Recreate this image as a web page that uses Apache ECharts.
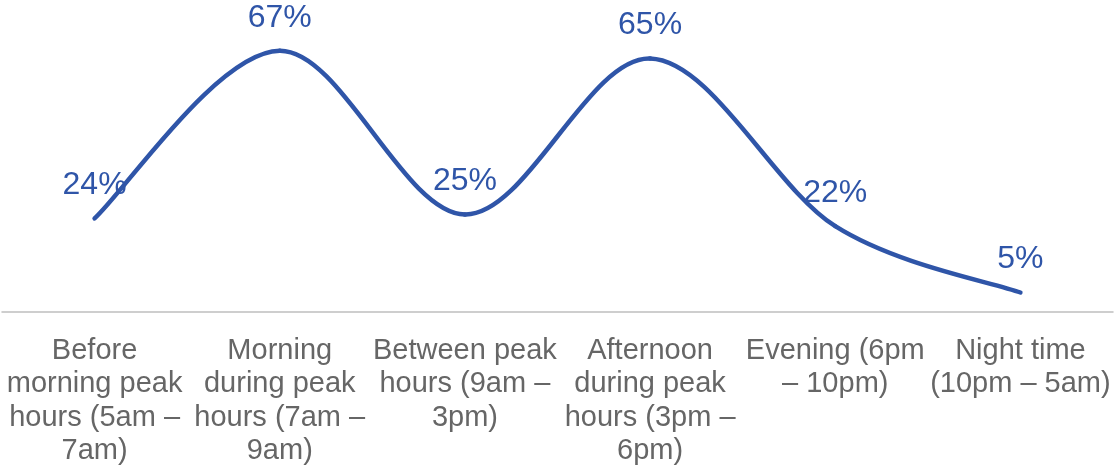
<!DOCTYPE html>
<html>
<head>
<meta charset="utf-8">
<script src="https://cdn.jsdelivr.net/npm/echarts@6/dist/echarts.min.js"></script>
<style>
  html, body { margin: 0; padding: 0; background: #ffffff; }
  #chart { width: 1115px; height: 466px; }
</style>
</head>
<body>
<div id="chart"></div>
<script>
// Time-of-day periods (line breaks as wrapped under the axis)
var categories = [
  'Before\nmorning peak\nhours (5am \u2013\n7am)',
  'Morning\nduring peak\nhours (7am \u2013\n9am)',
  'Between peak\nhours (9am \u2013\n3pm)',
  'Afternoon\nduring peak\nhours (3pm \u2013\n6pm)',
  'Evening (6pm\n\u2013 10pm)',
  'Night time\n(10pm \u2013 5am)'
];

// Share per period, in percent
var shares = [24, 67, 25, 65, 22, 5];

var LINE_COLOR = '#2F55A8';
var FONT = 'Liberation Sans, Arial, sans-serif';

// Smoothed curve: one cubic Bezier per segment, Catmull-Rom style tangents,
// endpoints positioned through the axis scales via api.coord.
function renderSegment(params, api) {
  var i = params.dataIndex;
  var n = shares.length;
  if (i >= n - 1) return null;
  function pt(k) {
    k = Math.max(0, Math.min(n - 1, k));
    return api.coord([k, shares[k]]);
  }
  var p0 = pt(i - 1), p1 = pt(i), p2 = pt(i + 1), p3 = pt(i + 2);
  var t = 1 / 6;
  return {
    type: 'bezierCurve',
    shape: {
      x1: p1[0], y1: p1[1],
      x2: p2[0], y2: p2[1],
      cpx1: p1[0] + (p2[0] - p0[0]) * t,
      cpy1: p1[1] + (p2[1] - p0[1]) * t,
      cpx2: p2[0] - (p3[0] - p1[0]) * t,
      cpy2: p2[1] - (p3[1] - p1[1]) * t
    },
    style: {
      stroke: LINE_COLOR,
      fill: null,
      lineWidth: 4.5,
      lineCap: 'round',
      lineJoin: 'round'
    }
  };
}

var chart = echarts.init(document.getElementById('chart'), null, { renderer: 'canvas' });

chart.setOption({
  animation: false,
  grid: {
    left: 2, right: 2, top: 0, bottom: 154,
    containLabel: false,
    outerBoundsMode: 'none'
  },
  xAxis: {
    type: 'category',
    data: categories,
    boundaryGap: true,
    axisLine: { show: true, lineStyle: { color: '#BFBFBF', width: 1.5 } },
    axisTick: { show: false },
    axisLabel: {
      interval: 0,
      margin: 22,
      color: '#666666',
      fontFamily: FONT,
      fontSize: 29,
      lineHeight: 33.5,
      align: 'center'
    }
  },
  yAxis: {
    type: 'value',
    min: 0,
    max: 80,
    show: false,
    splitLine: { show: false }
  },
  series: [
    {
      type: 'custom',
      renderItem: renderSegment,
      clip: false,
      silent: true,
      data: shares.map(function (v, i) { return [i, v]; }),
      encode: { x: 0, y: 1 },
      z: 2
    },
    {
      type: 'scatter',
      data: shares,
      symbol: 'circle',
      symbolSize: 2,
      itemStyle: { color: LINE_COLOR, opacity: 1 },
      label: {
        show: true,
        position: 'top',
        distance: 16,
        formatter: function (p) { return p.value + '%'; },
        color: LINE_COLOR,
        opacity: 1,
        fontFamily: FONT,
        fontSize: 32
      },
      labelLayout: { hideOverlap: false },
      z: 3
    }
  ]
});
</script>
</body>
</html>
